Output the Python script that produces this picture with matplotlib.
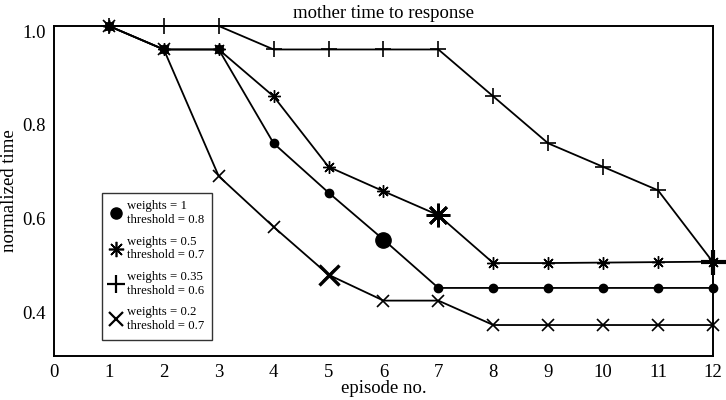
import numpy as np
import matplotlib
matplotlib.use("Agg")
import matplotlib.pyplot as plt
from matplotlib.lines import Line2D
from matplotlib.transforms import ScaledTranslation

plt.rcParams['font.family'] = ['Liberation Serif', 'DejaVu Serif']

# data
episodes = [1, 2, 3, 4, 5, 6, 7, 8, 9, 10, 11, 12]
w1_t08 = [1.0, 0.95, 0.95, 0.75, 0.645, 0.545, 0.442, 0.442, 0.442, 0.442, 0.442, 0.442]
w05_t07 = [1.0, 0.95, 0.95, 0.85, 0.70, 0.648, 0.597, 0.495, 0.495, 0.496, 0.497, 0.498]
w035_t06 = [1.0, 1.0, 1.0, 0.95, 0.95, 0.95, 0.95, 0.85, 0.75, 0.70, 0.65, 0.497]
w02_t07 = [1.0, 0.95, 0.68, 0.572, 0.47, 0.415, 0.415, 0.363, 0.363, 0.363, 0.363, 0.363]

labels = ["weights = 1\nthreshold = 0.8",
          "weights = 0.5\nthreshold = 0.7",
          "weights = 0.35\nthreshold = 0.6",
          "weights = 0.2\nthreshold = 0.7"]
# episode where each series' marker is drawn large
big_episode = [6, 7, 12, 5]

star = (8, 2, 0)
styles = [dict(marker='o', ms=6, mew=1.0),
          dict(marker=star, ms=9, mew=1.0),
          dict(marker='+', ms=11, mew=1.2),
          dict(marker='x', ms=9, mew=1.2)]
big_styles = [dict(marker='o', ms=11, mew=1.0),
              dict(marker=star, ms=17, mew=2.0),
              dict(marker='+', ms=18, mew=3.0),
              dict(marker='x', ms=15, mew=2.4)]
leg_styles = [dict(marker='o', ms=8, mew=1.0),
              dict(marker=star, ms=11, mew=1.2),
              dict(marker='+', ms=13, mew=1.6),
              dict(marker='x', ms=10, mew=1.6)]

fig = plt.figure(figsize=(7.26, 4.0), dpi=100)
ax = fig.add_axes([0.0744, 0.11, 0.9076, 0.825])

series = [w1_t08, w05_t07, w035_t06, w02_t07]
x = np.array(episodes)
for ys, st, bst, be in zip(series, styles, big_styles, big_episode):
    ys = np.array(ys)
    ax.plot(x, ys, color='k', lw=1.3, mfc='k', mec='k', clip_on=False, zorder=3, **st)
    i = episodes.index(be)
    ax.plot([x[i]], [ys[i]], ls='none', color='k', mfc='k', mec='k', clip_on=False, zorder=4, **bst)

ax.set_xlim(0, 12)
ax.set_ylim(0.297, 1.0)
ax.set_xticks(range(0, 13))
ax.set_yticks([0.4, 0.6, 0.8, 1.0])
ax.set_yticklabels(["0.4", "0.6", "0.8", "1.0"])
ax.tick_params(length=0, labelsize=13.5, pad=6)
# y labels sit a little below their values in the reference
for lab in ax.get_yticklabels():
    lab.set_transform(lab.get_transform() + ScaledTranslation(0, -0.05, fig.dpi_scale_trans))
for sp in ax.spines.values():
    sp.set_linewidth(1.4)

ax.set_xlabel("episode no.", fontsize=13.5, labelpad=-1)
ax.set_ylabel("normalized time", fontsize=13.5, labelpad=3)
ax.set_title("mother time to response", fontsize=13.5, pad=6)

handles = [Line2D([], [], ls='none', color='k', mfc='k', mec='k', **st) for st in leg_styles]
leg = ax.legend(handles, labels, loc='upper left', bbox_to_anchor=(0.073, 0.495),
                fontsize=9.2, frameon=True, fancybox=False, handlelength=1.0,
                handletextpad=0.35, labelspacing=0.75, borderpad=0.6, borderaxespad=0)
leg.get_frame().set_edgecolor('k')
leg.get_frame().set_linewidth(1.0)

fig.savefig("out.png", dpi=100)
